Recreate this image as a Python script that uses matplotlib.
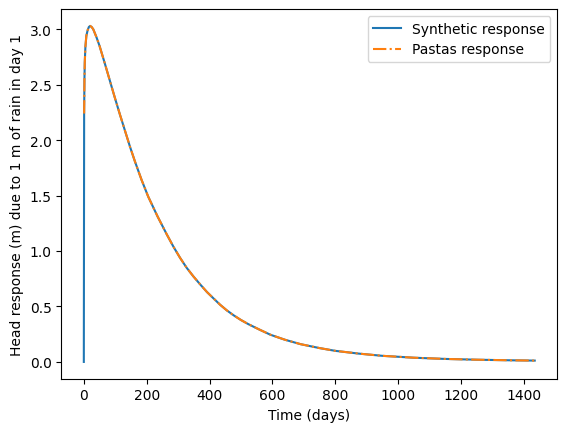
import matplotlib
matplotlib.use("Agg")
import matplotlib.pyplot as plt

# Head response (days, metres)
synth_days = [0, 1, 2, 3, 5, 8, 12, 16, 20, 25, 30, 40, 50, 67, 83, 99, 115,
              131, 147, 163, 184, 205, 235, 264, 285, 306, 327, 349, 370,
              392, 413, 434, 455, 477, 500, 524, 560, 594, 640, 690, 750,
              800, 875, 950, 1050, 1150, 1250, 1350, 1435]
synth_resp = [0.0, 2.24, 2.55, 2.70, 2.84, 2.94, 2.99, 3.02, 3.03, 3.02,
              3.00, 2.93, 2.85, 2.69, 2.535, 2.38, 2.23, 2.085, 1.94, 1.805,
              1.64, 1.49, 1.31, 1.15, 1.04, 0.94, 0.85, 0.77, 0.70, 0.63,
              0.572, 0.515, 0.465, 0.42, 0.378, 0.34, 0.29, 0.245, 0.20,
              0.16, 0.125, 0.10, 0.075, 0.055, 0.038, 0.027, 0.020, 0.015,
              0.012]

pastas_days = synth_days[1:]
pastas_resp = synth_resp[1:]

fig, ax = plt.subplots(figsize=(6.4, 4.8))
ax.plot(synth_days, synth_resp, label='Synthetic response')
ax.plot(pastas_days, pastas_resp, '-.', label='Pastas response')
ax.set_xlabel('Time (days)')
ax.set_ylabel('Head response (m) due to 1 m of rain in day 1')
ax.legend()
fig.savefig('out.png', bbox_inches='tight')
